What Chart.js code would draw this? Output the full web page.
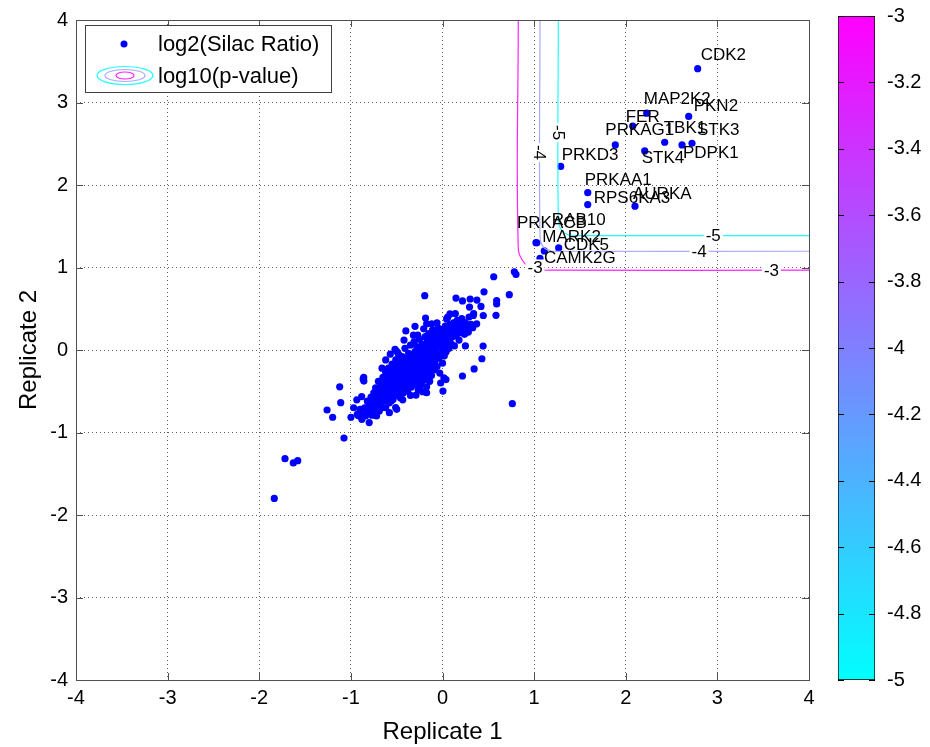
<!DOCTYPE html>
<html>
<head>
<meta charset="utf-8">
<script src="https://cdn.jsdelivr.net/npm/chart.js@4.4.0/dist/chart.umd.min.js"></script>
<style>
  html, body { margin: 0; padding: 0; background: #fff; }
  #wrap { position: relative; width: 930px; height: 747px; background: #fff; }
  #main { position: absolute; left: 0; top: 0; }
  #cbar { position: absolute; left: 830px; top: 0; }
</style>
</head>
<body>
<div id="wrap">
  <canvas id="main" width="930" height="747"></canvas>
  <canvas id="cbar" width="100" height="747"></canvas>
</div>
<script>
// ---------- data ----------
const axisTicks = [-4, -3, -2, -1, 0, 1, 2, 3, 4];
const colorTicks = [-5, -4.8, -4.6, -4.4, -4.2, -4, -3.8, -3.6, -3.4, -3.2, -3];

// log2 SILAC ratios of all quantified sites: [replicate 1, replicate 2]
const sitePairs = [
  [0.784,0.948],[0.802,0.916],[0.559,0.888],[0.729,0.671],[0.453,0.705],[-0.194,0.659],
  [0.147,0.630],[0.218,0.595],[0.302,0.618],[0.376,0.605],[0.591,0.599],[0.591,0.558],[0.584,0.420],
  [0.295,0.520],[0.420,0.528],[0.336,0.418],[0.445,0.418],[0.373,0.317],[0.282,0.217],[0.210,0.329],
  [0.155,0.298],[0.082,0.437],[0.057,0.398],[0.045,0.377],
  [-0.185,0.388],[-0.173,0.317],[-0.118,0.317],[-0.300,0.287],[-0.205,0.257],[-0.400,0.231],
  [-0.317,0.180],[-0.173,0.169],[-0.129,0.172],
  [0.443,0.048],[0.430,-0.106],[0.345,-0.229],[0.218,-0.315],[0.015,-0.337],[0.038,-0.359],[0.005,-0.498],
  [0.762,-0.651],
  [-0.434,-0.604],[-0.511,-0.697],[-0.500,-0.719],[-0.558,-0.614],
  [-1.122,-0.446],[-1.111,-0.639],[-1.260,-0.727],[-1.199,-0.815],[-0.999,-0.815],[-0.919,-0.795],
  [-0.873,-0.773],[-0.935,-0.604],[-0.882,-0.564],[-0.791,-0.773],[-0.810,-0.697],[-0.866,-0.353],
  [-0.858,-0.377],[-0.860,-0.333],
  [-1.075,-1.068],[-1.719,-1.317],[-1.628,-1.369],[-1.580,-1.341],[-1.836,-1.799],
  [-0.518,0.008],[-0.500,-0.016],
  [-0.289,-0.546],[-0.264,-0.486],[-0.246,-0.446],[-0.173,-0.446],[-0.173,-0.518],[-0.216,-0.506],
  [0.136,0.298],[0.227,0.337],[0.210,0.220],[0.100,0.250],[0.160,0.260],[0.260,0.230],[0.330,0.270],[0.190,0.360],
  [-0.93,-0.78],[-0.90,-0.72],[-0.88,-0.84],[-0.85,-0.70],[-0.84,-0.80],[-0.82,-0.62],[-0.81,-0.75],
  [-0.80,-0.88],[-0.79,-0.68],[-0.78,-0.57],[-0.77,-0.79],
  [-0.76,-0.66],[-0.75,-0.52],[-0.75,-0.72],[-0.74,-0.61],[-0.73,-0.46],[-0.72,-0.80],[-0.72,-0.55],
  [-0.71,-0.67],[-0.70,-0.38],[-0.70,-0.60],[-0.69,-0.74],[-0.68,-0.50],[-0.68,-0.64],[-0.67,-0.43],
  [-0.66,-0.57],[-0.66,-0.70],[-0.65,-0.33],[-0.65,-0.48],
  [-0.64,-0.62],[-0.63,-0.40],[-0.63,-0.53],[-0.62,-0.27],[-0.62,-0.70],[-0.61,-0.46],[-0.60,-0.58],
  [-0.60,-0.35],[-0.59,-0.22],[-0.59,-0.50],[-0.58,-0.64],[-0.57,-0.41],[-0.57,-0.30],[-0.56,-0.55],
  [-0.55,-0.17],[-0.55,-0.45],[-0.54,-0.36],[-0.54,-0.60],[-0.53,-0.26],[-0.53,-0.50],[-0.52,-0.40],
  [-0.51,-0.12],[-0.51,-0.31],[-0.50,-0.55],[-0.50,-0.45],
  [-0.49,-0.22],[-0.49,-0.36],[-0.48,-0.05],[-0.48,-0.48],[-0.47,-0.28],[-0.47,-0.15],[-0.46,-0.40],
  [-0.46,-0.58],[-0.45,-0.20],[-0.45,-0.33],[-0.44,-0.08],[-0.44,-0.45],[-0.43,-0.26],[-0.43,-0.52],
  [-0.42,-0.14],[-0.42,-0.37],[-0.41,0.02],[-0.41,-0.30],[-0.40,-0.20],[-0.40,-0.43],[-0.39,-0.10],
  [-0.39,-0.34],[-0.38,-0.25],[-0.38,-0.50],[-0.37,-0.04],[-0.37,-0.17],[-0.36,-0.39],[-0.36,-0.28],
  [-0.35,-0.12],[-0.35,0.06],
  [-0.34,-0.22],[-0.34,-0.45],[-0.33,-0.33],[-0.33,-0.06],[-0.32,-0.16],[-0.32,-0.27],[-0.31,0.10],
  [-0.31,-0.38],[-0.30,-0.02],[-0.30,-0.21],[-0.29,-0.10],[-0.29,-0.30],[-0.28,-0.42],[-0.28,0.04],
  [-0.27,-0.15],[-0.27,-0.25],[-0.26,-0.06],[-0.26,-0.35],[-0.25,0.13],[-0.25,-0.19],[-0.24,-0.28],
  [-0.24,-0.01],[-0.23,-0.12],[-0.23,-0.40],[-0.22,0.07],[-0.22,-0.22],[-0.21,-0.08],[-0.21,-0.32],
  [-0.20,0.02],[-0.20,-0.16],
  [-0.19,-0.25],[-0.19,0.16],[-0.18,-0.05],[-0.18,-0.36],[-0.17,0.09],[-0.17,-0.19],[-0.16,-0.10],
  [-0.16,-0.29],[-0.15,0.03],[-0.15,0.20],[-0.14,-0.14],[-0.14,-0.23],[-0.13,0.12],[-0.13,-0.04],
  [-0.12,-0.31],[-0.12,0.06],[-0.11,-0.17],[-0.11,0.24],[-0.10,-0.08],[-0.10,0.00],[-0.09,-0.24],
  [-0.09,0.15],[-0.08,0.08],[-0.08,-0.13],[-0.07,0.21],[-0.07,-0.02],[-0.06,-0.20],[-0.06,0.11],
  [-0.05,0.04],[-0.05,0.27],
  [-0.04,-0.10],[-0.04,0.17],[-0.03,0.08],[-0.03,-0.28],[-0.02,0.22],[-0.02,-0.05],[-0.01,0.13],
  [-0.01,0.03],[0.00,0.25],[0.00,-0.16],[0.01,0.10],[0.01,0.18],[0.02,-0.07],[0.02,0.05],[0.03,0.29],
  [0.03,0.14],[0.04,0.21],[0.04,-0.02],[0.05,0.10],[0.06,0.24],[0.06,0.17],[0.07,0.02],[0.08,0.31],
  [0.08,0.13],[0.09,0.20],[0.10,0.07],[0.10,0.26],
  [0.11,0.16],[0.12,0.33],[0.12,0.22],[0.13,0.05],[0.14,0.28],[0.15,0.18],[0.16,0.36],[0.17,0.24],
  [0.18,0.12],[0.19,0.30],[0.20,0.21],[0.21,0.38],[0.22,0.27],[0.24,0.19],[0.25,0.33],[0.27,0.25],
  [0.29,0.40],[0.31,0.31],
  [-0.44,-0.21],[-0.43,-0.35],[-0.41,-0.12],[-0.40,-0.27],[-0.38,-0.36],[-0.37,-0.30],[-0.36,-0.08],
  [-0.35,-0.24],[-0.34,-0.31],[-0.33,-0.20],[-0.32,-0.09],[-0.31,-0.24],[-0.30,-0.33],[-0.29,-0.18],
  [-0.28,-0.07],[-0.27,-0.30],[-0.26,-0.22],[-0.25,-0.10],[-0.24,-0.34],[-0.23,-0.20],[-0.22,-0.03],
  [-0.21,-0.15],[-0.20,-0.26],[-0.19,-0.10],[-0.18,0.02],[-0.17,-0.27],[-0.16,-0.02],[-0.15,-0.13],
  [-0.14,0.07],[-0.13,-0.20],[-0.12,-0.10],[-0.11,0.01],[-0.10,-0.18],[-0.09,0.05],[-0.08,-0.05],
  [-0.07,0.12],[-0.53,-0.38],[-0.52,-0.20],[-0.50,-0.30],[-0.48,-0.41],[-0.47,-0.22],[-0.46,-0.10],
  [-0.45,-0.50],[-0.60,-0.44],[-0.58,-0.52],[-0.56,-0.36],[-0.55,-0.27],[-0.64,-0.50],[-0.68,-0.58],
  [-0.70,-0.48],[-0.72,-0.62],
  [-0.62,-0.12],[-0.57,-0.05],[-0.66,-0.22],[-0.42,0.12],[-0.27,0.18],[-0.06,0.33],[0.14,0.44],
  [-0.02,-0.40],[-0.14,-0.38],[-0.35,-0.55],[-0.58,-0.76],[-0.97,-0.70],[0.25,0.05],[0.34,0.44]
];

// significantly enriched kinases
const kinaseNames = ['CDK2','MAP2K2','PKN2','FER','PRKAG1','TBK1','STK3','PDPK1','STK4','PRKD3',
  'PRKAA1','RPS6KA3','AURKA','RAB10','PRKACB','MARK2','CDK5','CAMK2G'];
const kinaseRep1 = [2.785, 2.229, 2.687, 2.076, 1.886, 2.425, 2.723, 2.614, 2.207, 1.290,
  1.585, 1.585, 2.101, 1.030, 1.020, 1.111, 1.268, 1.064];
const kinaseRep2 = [3.410, 2.871, 2.831, 2.714, 2.486, 2.518, 2.506, 2.486, 2.413, 2.225,
  1.907, 1.763, 1.743, 1.300, 1.301, 1.201, 1.237, 1.112];

// log10(p-value) iso-lines
const contourLevels = [-3, -4, -5];
const contourM3 = [[0.827,4],[0.827,1.23],[0.90,1.048],[1.028,0.98],[1.173,0.967],[4,0.967]];
const contourM4 = [[1.064,4],[1.064,1.389],[1.10,1.249],[1.19,1.20],[1.32,1.197],[4,1.197]];
const contourM5 = [[1.264,4],[1.264,1.59],[1.30,1.449],[1.39,1.39],[1.50,1.386],[4,1.386]];
// where each level is labelled: [level, replicate 1, replicate 2, vertical?]
const contourLabelSpots = [
  [-3, 1.01, 1.00, false], [-3, 3.59, 0.967, false],
  [-4, 1.064, 2.394, true], [-4, 2.80, 1.197, false],
  [-5, 1.264, 2.635, true], [-5, 2.955, 1.386, false]
];

// ---------- styling ----------
const FONT = "'Liberation Sans', Arial, Helvetica, sans-serif";
Chart.defaults.font.family = FONT;
Chart.defaults.color = '#000';
const levelColor = { '-3': '#ff00ff', '-4': '#8080ff', '-5': '#00ffff' };
const lineColor = { '-3': '#ff22ff', '-4': '#a8a8ff', '-5': '#22ffff' };
const labelNudge = {
  CDK2:[3,-13], MAP2K2:[-3,-14], PKN2:[5,-10], FER:[-7,-9], PRKAG1:[-10,-15], TBK1:[-1,-14],
  STK3:[5,-13], PDPK1:[1,8], STK4:[-3,7], PRKD3:[1,-11], PRKAA1:[-3,-12], RPS6KA3:[6,-6],
  AURKA:[-2,-12], RAB10:[15,-22], PRKACB:[-19,-19], MARK2:[-2,-14], CDK5:[5,-3], CAMK2G:[4,0]
};

const toXY = pts => pts.map(([x, y]) => ({ x, y }));
const contourSet = (pts, lvl) => ({
  type: 'line', data: toXY(pts), showLine: true, pointRadius: 0, borderWidth: 1.2,
  borderColor: lineColor[lvl], tension: 0.4, fill: false, order: 0
});

// frame, inward ticks, annotations and legend
const decorations = {
  id: 'decorations',
  afterDatasetsDraw(chart) {
    const { ctx, chartArea: a, scales: { x, y } } = chart;
    ctx.save();
    // contour labels with white knock-out
    ctx.font = '17px ' + FONT;
    ctx.textAlign = 'center';
    ctx.textBaseline = 'middle';
    contourLabelSpots.forEach(([lvl, vx, vy, vert]) => {
      const px = x.getPixelForValue(vx), py = y.getPixelForValue(vy);
      const t = String(lvl);
      const w = ctx.measureText(t).width + 4, h = 16;
      ctx.save();
      ctx.translate(px, py);
      if (vert) ctx.rotate(Math.PI / 2);
      ctx.fillStyle = '#fff';
      ctx.fillRect(-w / 2, -h / 2, w, h);
      ctx.fillStyle = '#000';
      ctx.fillText(t, 0, 1);
      ctx.restore();
    });
    // kinase names
    const meta = chart.getDatasetMeta(1);
    ctx.textAlign = 'left';
    ctx.fillStyle = '#000';
    kinaseNames.forEach((n, i) => {
      const el = meta.data[i];
      const [dx, dy] = labelNudge[n] || [3, -12];
      ctx.fillText(n, el.x + dx, el.y + dy);
    });
    // inward tick marks on all four sides
    const tl = 7;
    ctx.strokeStyle = '#505050';
    ctx.lineWidth = 1;
    ctx.beginPath();
    x.ticks.forEach(t => {
      const p = Math.round(x.getPixelForValue(t.value)) + 0.5;
      ctx.moveTo(p, a.bottom); ctx.lineTo(p, a.bottom - tl);
      ctx.moveTo(p, a.top); ctx.lineTo(p, a.top + tl);
    });
    y.ticks.forEach(t => {
      const p = Math.round(y.getPixelForValue(t.value)) + 0.5;
      ctx.moveTo(a.left, p); ctx.lineTo(a.left + tl, p);
      ctx.moveTo(a.right, p); ctx.lineTo(a.right - tl, p);
    });
    ctx.stroke();
    ctx.strokeRect(Math.round(a.left) + 0.5, Math.round(a.top) + 0.5,
      Math.round(a.right - a.left), Math.round(a.bottom - a.top));

    // legend box
    const lx = 85.5, ly = 25.5, lw = 246, lh = 67;
    ctx.fillStyle = '#fff';
    ctx.fillRect(lx, ly, lw, lh);
    ctx.strokeStyle = '#404040';
    ctx.strokeRect(lx, ly, lw, lh);
    ctx.fillStyle = '#0000ff';
    ctx.beginPath(); ctx.arc(124, 44, 3.5, 0, Math.PI * 2); ctx.fill();
    ctx.lineWidth = 1.2;
    [['-5', 28, 9], ['-4', 20, 6], ['-3', 9, 3.5]].forEach(([lvl, rx, ry]) => {
      ctx.strokeStyle = lineColor[lvl];
      ctx.beginPath(); ctx.ellipse(125, 75.5, rx, ry, 0, 0, Math.PI * 2); ctx.stroke();
    });
    ctx.fillStyle = '#000';
    ctx.font = '22px ' + FONT;
    ctx.textAlign = 'left';
    ctx.textBaseline = 'middle';
    ctx.fillText('log2(Silac Ratio)', 158, 45);
    ctx.fillText('log10(p-value)', 158, 77);
    ctx.restore();
  }
};

const fixedTicks = vals => scale => { scale.ticks = vals.map(v => ({ value: v })); };
const gridStyle = { color: '#606060', lineWidth: 1, drawTicks: false };

new Chart(document.getElementById('main'), {
  type: 'scatter',
  data: {
    datasets: [
      { label: 'log2(Silac Ratio)', data: toXY(sitePairs), pointRadius: 3.6, pointHoverRadius: 3.6,
        pointBackgroundColor: '#0000ff', pointBorderWidth: 0, order: 1 },
      { label: 'kinases', data: kinaseNames.map((n, i) => ({ x: kinaseRep1[i], y: kinaseRep2[i] })),
        pointRadius: 3.6, pointHoverRadius: 3.6, pointBackgroundColor: '#0000ff', pointBorderWidth: 0, order: 1 },
      contourSet(contourM3, -3),
      contourSet(contourM4, -4),
      contourSet(contourM5, -5)
    ]
  },
  options: {
    responsive: false,
    animation: false,
    events: [],
    layout: { padding: { left: 0, top: 16, right: 121, bottom: 0 } },
    plugins: { legend: { display: false }, tooltip: { enabled: false } },
    scales: {
      x: {
        type: 'linear', min: -4, max: 4,
        afterBuildTicks: fixedTicks(axisTicks),
        afterFit: s => { s.height = 67; },
        grid: gridStyle,
        border: { display: false, dash: [1, 3] },
        ticks: { font: { size: 20 }, color: '#000', padding: 6, callback: v => String(v) },
        title: { display: true, text: 'Replicate 1', font: { size: 24 }, color: '#000', padding: 0 }
      },
      y: {
        type: 'linear', min: -4, max: 4,
        afterBuildTicks: fixedTicks(axisTicks),
        afterFit: s => { s.width = 76; },
        grid: gridStyle,
        border: { display: false, dash: [1, 3] },
        ticks: { font: { size: 20 }, color: '#000', padding: 8, callback: v => String(v) },
        title: { display: true, text: 'Replicate 2', font: { size: 24 }, color: '#000', padding: { top: 15, bottom: 0 } }
      }
    }
  },
  plugins: [decorations]
});

// ---------- colour bar ----------
const barTicks = {
  id: 'barTicks',
  afterDatasetsDraw(chart) {
    const { ctx, chartArea: a, scales: { y } } = chart;
    ctx.save();
    ctx.strokeStyle = '#000';
    ctx.lineWidth = 1;
    ctx.beginPath();
    y.ticks.forEach(t => {
      const p = Math.round(y.getPixelForValue(t.value)) + 0.5;
      ctx.moveTo(a.left, p); ctx.lineTo(a.left + 6, p);
      ctx.moveTo(a.right, p); ctx.lineTo(a.right - 6, p);
    });
    ctx.stroke();
    ctx.restore();
  }
};

new Chart(document.getElementById('cbar'), {
  type: 'bar',
  data: {
    labels: [''],
    datasets: [{
      data: [[colorTicks[0], colorTicks[colorTicks.length - 1]]],
      backgroundColor: c => {
        const area = c.chart.chartArea;
        if (!area) return '#8080ff';
        const g = c.chart.ctx.createLinearGradient(0, area.bottom, 0, area.top);
        g.addColorStop(0, levelColor['-5']);
        g.addColorStop(1, levelColor['-3']);
        return g;
      },
      borderColor: '#000', borderWidth: 1, borderSkipped: false,
      barPercentage: 1, categoryPercentage: 1
    }]
  },
  options: {
    responsive: false,
    animation: false,
    events: [],
    layout: { padding: { left: 8, top: 16, right: 0, bottom: 67 } },
    plugins: { legend: { display: false }, tooltip: { enabled: false } },
    scales: {
      x: { display: false },
      y: {
        position: 'right', min: -5, max: -3,
        afterBuildTicks: fixedTicks(colorTicks),
        afterFit: s => { s.width = 55; },
        grid: { display: false },
        border: { display: false },
        ticks: { font: { size: 20 }, color: '#000', padding: 4, callback: v => String(v) }
      }
    }
  },
  plugins: [barTicks]
});
</script>
</body>
</html>
